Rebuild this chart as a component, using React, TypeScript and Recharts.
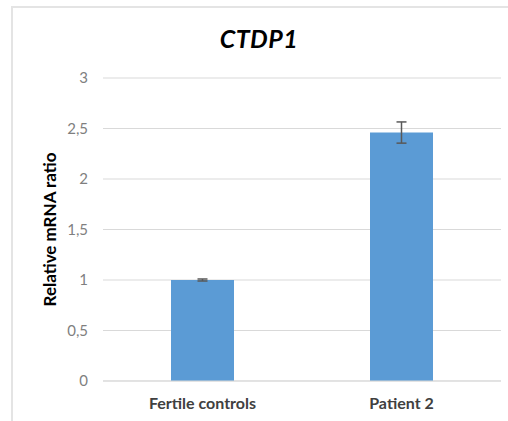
import { Bar, BarChart, CartesianGrid, ErrorBar, XAxis, YAxis } from "recharts";

const categories = ["Fertile controls", "Patient 2"];
const ratios = [1.0, 2.46];
const errors = [0.01, 0.105];
const yTicks = [0, 0.5, 1, 1.5, 2, 2.5, 3];

const FONT = "Lato, 'Open Sans', sans-serif";

const data = categories.map((name, i) => ({
  name,
  ratio: ratios[i],
  err: errors[i],
}));

const renderYLabel = (props: any) => {
  const { viewBox } = props;
  const cy = viewBox.y + viewBox.height / 2;
  return (
    <text
      x={49}
      y={cy}
      transform={`rotate(-90, 49, ${cy})`}
      textAnchor="middle"
      dominantBaseline="central"
      fontFamily={FONT}
      fontWeight="bold"
      fontSize={17}
      fill="#000"
    >
      Relative mRNA ratio
    </text>
  );
};

export default function App() {
  return (
    <div
      style={{
        position: "absolute",
        left: 0,
        top: 0,
        width: 508,
        height: 421,
        overflow: "hidden",
        background: "#fff",
      }}
    >
      <div
        style={{
          position: "absolute",
          left: 11,
          top: 6,
          width: 600,
          height: 500,
          border: "2px solid #e4e4e4",
        }}
      />
      <div
        style={{
          position: "absolute",
          left: 0,
          top: 23,
          width: 518,
          textAlign: "center",
          fontFamily: FONT,
          fontWeight: "bold",
          fontStyle: "italic",
          fontSize: 25,
          letterSpacing: 0.5,
          color: "#000",
        }}
      >
        CTDP1
      </div>
      <div style={{ position: "absolute", left: 0, top: 0 }}>
        <BarChart
          width={508}
          height={421}
          data={data}
          margin={{ top: 78, right: 7, bottom: 10, left: 0 }}
        >
          <CartesianGrid vertical={false} stroke="#d9d9d9" />
          <XAxis
            dataKey="name"
            height={30}
            tickLine={false}
            axisLine={{ stroke: "#d9d9d9" }}
            tickMargin={11}
            tick={{
              fontFamily: FONT,
              fontWeight: "bold",
              fontSize: 16,
              fill: "#404040",
            }}
          />
          <YAxis
            width={103}
            domain={[0, 3]}
            ticks={yTicks}
            interval={0}
            tickLine={false}
            axisLine={false}
            tickMargin={9}
            tickFormatter={(v: number) => String(v).replace(".", ",")}
            tick={{ fontFamily: FONT, fontSize: 15, fill: "#7f7f7f" }}
            label={{ content: renderYLabel }}
          />
          <Bar
            dataKey="ratio"
            fill="#5b9bd5"
            barSize={63}
            isAnimationActive={false}
          >
            <ErrorBar
              dataKey="err"
              width={5}
              stroke="#595959"
              strokeWidth={1.5}
              direction="y"
            />
          </Bar>
        </BarChart>
      </div>
    </div>
  );
}
